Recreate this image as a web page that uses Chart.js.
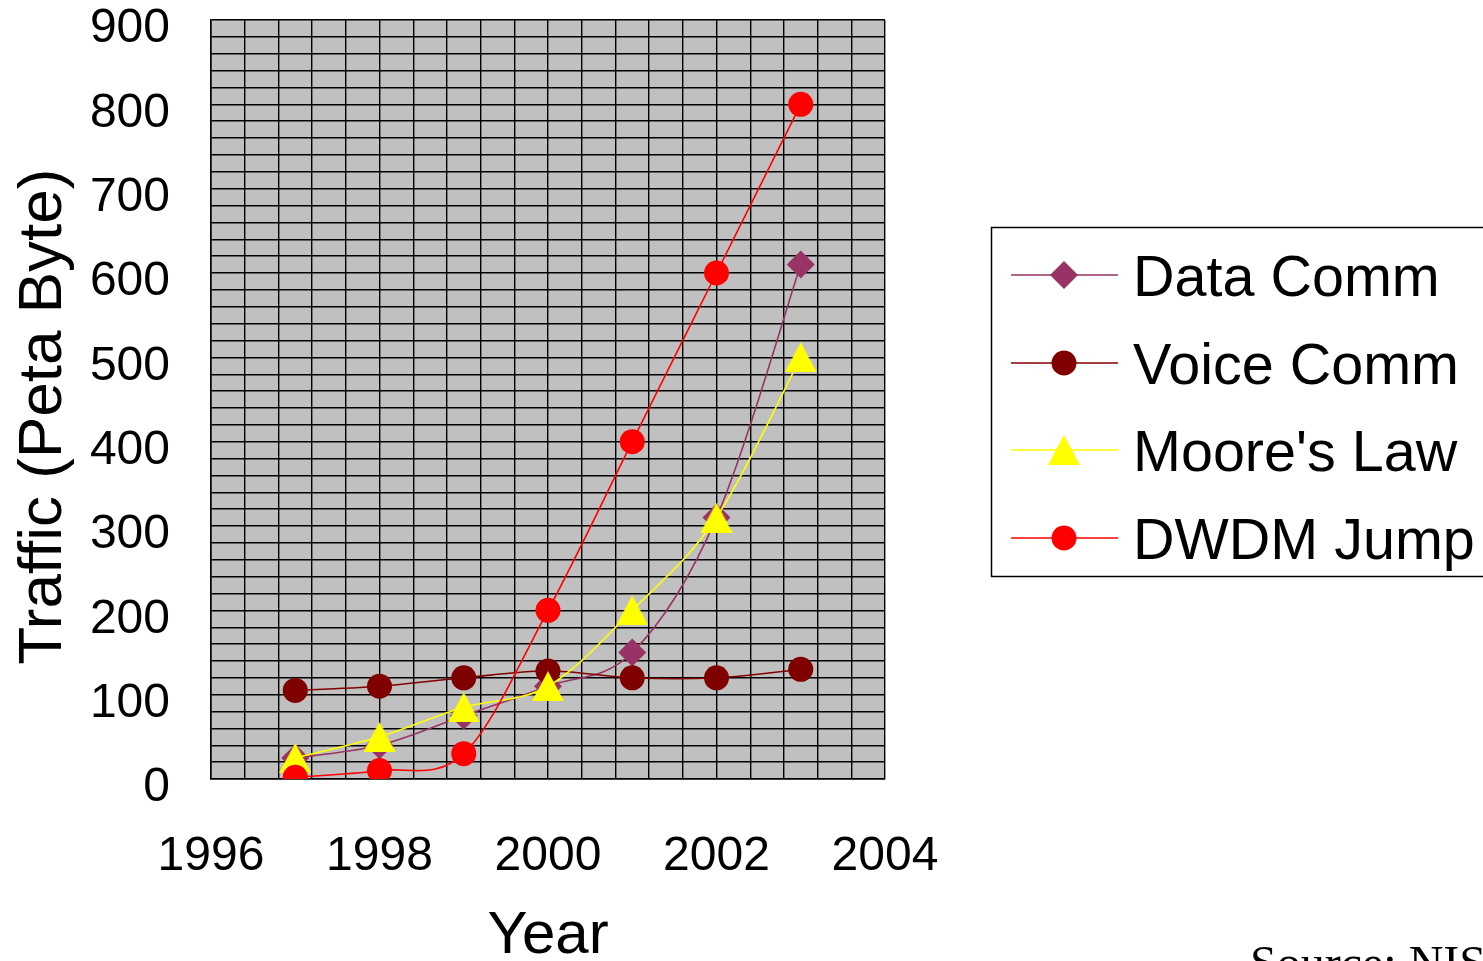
<!DOCTYPE html>
<html>
<head>
<meta charset="utf-8">
<title>Traffic growth</title>
<script src="https://cdn.jsdelivr.net/npm/chart.js@4/dist/chart.umd.min.js"></script>
<style>
  html, body { margin: 0; padding: 0; background: #ffffff; overflow: hidden; }
  #wrap { position: relative; width: 1483px; height: 961px; }
</style>
</head>
<body>
<div id="wrap"><canvas id="chart" width="1483" height="961"></canvas></div>
<script>
// Yearly traffic, in petabytes
const years = [1997, 1998, 1999, 2000, 2001, 2002, 2003];
const dataComm = [25, 40, 75, 110, 150, 310, 610];
const voiceComm = [105, 110, 120, 128, 120, 120, 130];
const mooresLaw = [25, 50, 85, 110, 200, 310, 500];
const dwdmJump = [2, 10, 30, 200, 400, 600, 800];

const seriesNames = ['Data Comm', 'Voice Comm', "Moore's Law", 'DWDM Jump'];
const xTickLabels = [1996, 1998, 2000, 2002, 2004];
const yTickLabels = [0, 100, 200, 300, 400, 500, 600, 700, 800, 900];

const SANS = '"Liberation Sans", Arial, Helvetica, sans-serif';
const SERIF = '"Liberation Serif", "Times New Roman", serif';

// Triangle marker drawn centred on its bounding box
function makeTriangle(w, h, color) {
  const c = document.createElement('canvas');
  c.width = w; c.height = h;
  const g = c.getContext('2d');
  g.fillStyle = color;
  g.beginPath();
  g.moveTo(w / 2, 0);
  g.lineTo(w, h);
  g.lineTo(0, h);
  g.closePath();
  g.fill();
  return c;
}
const triangleMarker = makeTriangle(32, 30, '#FFFF00');

const toPoints = vals => vals.map((v, i) => ({ x: years[i], y: v }));

// Smoothed lines: Catmull-Rom style Bezier handles (1/6 of neighbour span)
const smoothLines = {
  id: 'smoothLines',
  beforeDatasetDraw(chart, args) {
    const meta = args.meta;
    const line = meta.dataset;
    if (!line) return;
    line.updateControlPoints(chart.chartArea, meta.iScale.axis);
    const pts = meta.data;
    const n = pts.length;
    for (let i = 0; i < n; i++) {
      const p = pts[i];
      const prev = pts[Math.max(i - 1, 0)];
      const next = pts[Math.min(i + 1, n - 1)];
      const dx = (next.x - prev.x) / 6;
      const dy = (next.y - prev.y) / 6;
      p.cp1x = p.x - dx; p.cp1y = p.y - dy;
      p.cp2x = p.x + dx; p.cp2y = p.y + dy;
    }
    line._path = undefined;
  }
};

// Boxed legend to the right of the plot, plus the source note
const sideLegend = {
  id: 'sideLegend',
  afterDraw(chart) {
    const ctx = chart.ctx;
    const area = chart.chartArea;
    const boxLeft = area.right + 106;
    const boxTop = 227;
    const rowYs = [275, 363, 450, 538];
    ctx.save();
    ctx.strokeStyle = '#000000';
    ctx.lineWidth = 1.5;
    ctx.strokeRect(boxLeft + 0.5, boxTop + 0.5, 700, 349);

    chart.data.datasets.forEach((ds, i) => {
      const y = rowYs[i];
      const x0 = boxLeft + 20, x1 = boxLeft + 127, xm = boxLeft + 73;
      ctx.strokeStyle = ds.borderColor;
      ctx.lineWidth = 1.5;
      ctx.beginPath();
      ctx.moveTo(x0, y);
      ctx.lineTo(x1, y);
      ctx.stroke();

      ctx.fillStyle = ds.pointBackgroundColor;
      const r = ds.pointRadius;
      if (ds.pointStyle === 'rectRot') {
        ctx.beginPath();
        ctx.moveTo(xm - r, y);
        ctx.lineTo(xm, y - r);
        ctx.lineTo(xm + r, y);
        ctx.lineTo(xm, y + r);
        ctx.closePath();
        ctx.fill();
      } else if (ds.pointStyle === 'circle') {
        ctx.beginPath();
        ctx.arc(xm, y, r, 0, Math.PI * 2);
        ctx.fill();
      } else {
        const img = ds.pointStyle;
        ctx.drawImage(img, xm - img.width / 2, y - img.height / 2);
      }

      ctx.fillStyle = '#000000';
      ctx.font = '57.5px ' + SANS;
      ctx.textBaseline = 'alphabetic';
      ctx.textAlign = 'left';
      ctx.fillText(seriesNames[i], boxLeft + 142, y + 21);
    });

    ctx.font = '48px ' + SERIF;
    ctx.fillStyle = '#000000';
    ctx.fillText('Source: NIST', 1250, 979);
    ctx.restore();
  }
};

// Gray plot background
const plotBackground = {
  id: 'plotBackground',
  beforeDraw(chart) {
    const { ctx, chartArea: a } = chart;
    ctx.save();
    ctx.fillStyle = '#C0C0C0';
    ctx.fillRect(a.left, a.top, a.right - a.left, a.bottom - a.top);
    ctx.restore();
  }
};

const near = (v, list) => list.find(t => Math.abs(v - t) < 1e-6);

new Chart(document.getElementById('chart'), {
  type: 'line',
  data: {
    datasets: [
      {
        label: seriesNames[0], data: toPoints(dataComm), order: 3,
        borderColor: '#993366', backgroundColor: '#993366',
        pointBackgroundColor: '#993366', pointStyle: 'rectRot', pointRadius: 14,
        pointBorderWidth: 0, borderWidth: 1.6, tension: 0.4
      },
      {
        label: seriesNames[1], data: toPoints(voiceComm), order: 2,
        borderColor: '#800000', backgroundColor: '#800000',
        pointBackgroundColor: '#800000', pointStyle: 'circle', pointRadius: 12.5,
        pointBorderWidth: 0, borderWidth: 1.6, tension: 0.4
      },
      {
        label: seriesNames[2], data: toPoints(mooresLaw), order: 1,
        borderColor: '#FFFF00', backgroundColor: '#FFFF00',
        pointBackgroundColor: '#FFFF00', pointStyle: triangleMarker, pointRadius: 15,
        pointBorderWidth: 0, borderWidth: 1.6, tension: 0.4
      },
      {
        label: seriesNames[3], data: toPoints(dwdmJump), order: 0,
        borderColor: '#FF0000', backgroundColor: '#FF0000',
        pointBackgroundColor: '#FF0000', pointStyle: 'circle', pointRadius: 12.5,
        pointBorderWidth: 0, borderWidth: 1.6, tension: 0.4
      }
    ]
  },
  options: {
    responsive: false,
    animation: false,
    devicePixelRatio: 1,
    layout: { padding: { left: 0, top: 20, right: 598, bottom: 0 } },
    plugins: {
      legend: { display: false },
      tooltip: { enabled: false }
    },
    scales: {
      x: {
        type: 'linear',
        min: 1996, max: 2004,
        afterFit(scale) { scale.height = 182; scale.paddingLeft = 0; scale.paddingRight = 0; },
        border: { display: true, color: '#000000', width: 1.5 },
        grid: { color: '#000000', lineWidth: 1.4, drawTicks: false },
        ticks: {
          stepSize: 0.4, autoSkip: false, maxRotation: 0, minRotation: 0,
          padding: 49, color: '#000000',
          font: { family: SANS, size: 48 },
          callback: v => { const t = near(v, xTickLabels); return t === undefined ? '' : String(t); }
        },
        title: {
          display: true, text: 'Year', color: '#000000',
          font: { family: SANS, size: 60, lineHeight: 0.9 }, padding: { top: 0, bottom: -2 }
        }
      },
      y: {
        type: 'linear',
        min: 0, max: 900,
        afterFit(scale) { scale.width = 211; scale.paddingTop = 0; scale.paddingBottom = 0; },
        border: { display: true, color: '#000000', width: 1.5 },
        grid: { color: '#000000', lineWidth: 1.4, drawTicks: false },
        ticks: {
          stepSize: 20, autoSkip: false, padding: 41, labelOffset: 9, color: '#000000',
          font: { family: SANS, size: 48 },
          callback: v => { const t = near(v, yTickLabels); return t === undefined ? '' : String(t); }
        },
        title: {
          display: true, text: 'Traffic (Peta Byte)  ', color: '#000000',
          font: { family: SANS, size: 62 }, padding: { top: 7, bottom: 0 }
        }
      }
    }
  },
  plugins: [plotBackground, smoothLines, sideLegend]
});
</script>
</body>
</html>
